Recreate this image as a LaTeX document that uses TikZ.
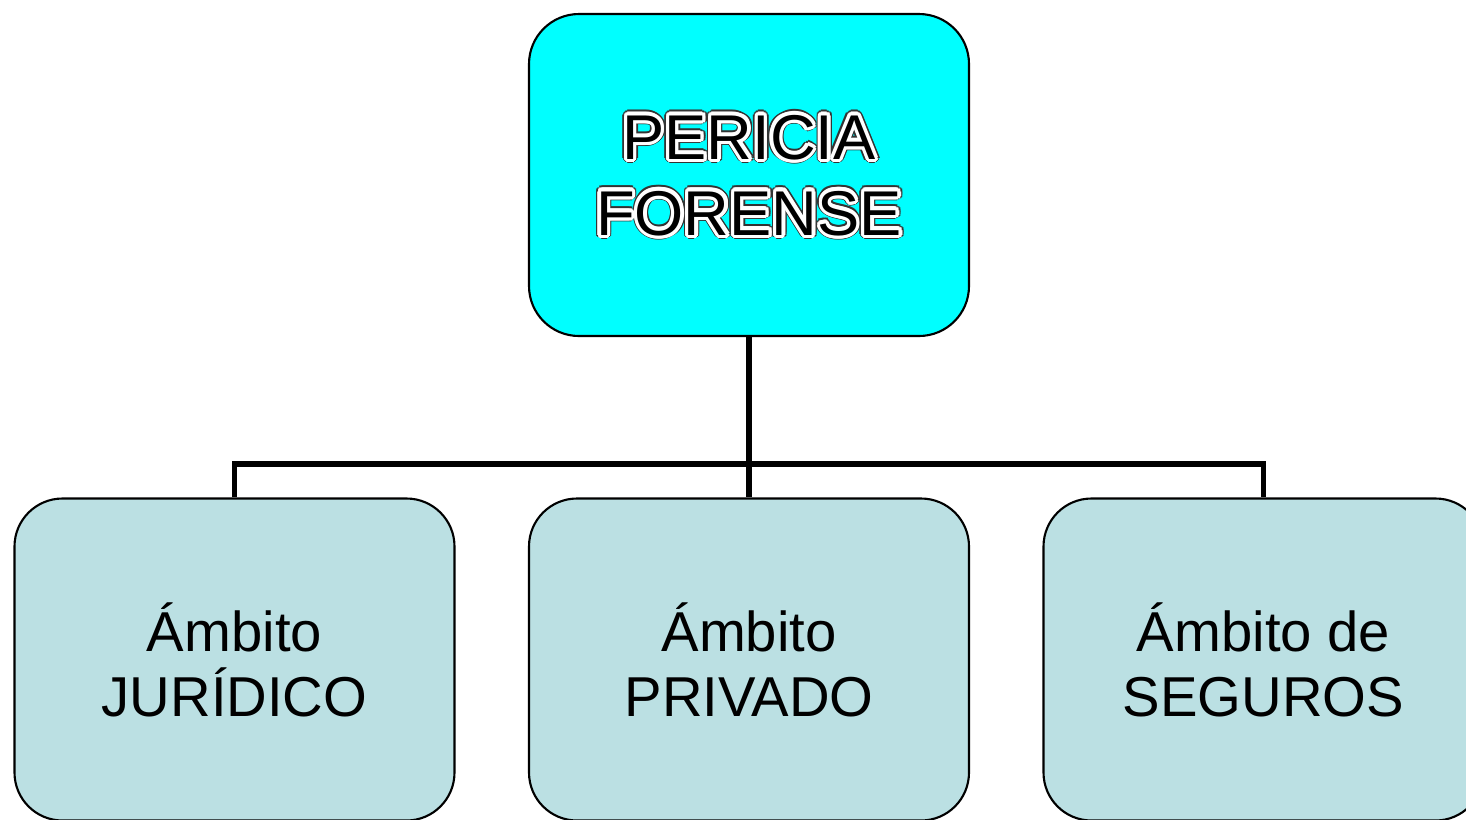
\documentclass[tikz,border=0pt]{standalone}
\usepackage{fontspec}
\setmainfont{Liberation Sans}
\usepackage{contour}
\definecolor{cajaraiz}{RGB}{0,255,255}
\definecolor{cajahija}{RGB}{187,224,227}
\tikzset{
  caja/.style = {draw = black, line width = 0.6pt, rounded corners = 0.48cm,
    minimum width = 4.4cm, minimum height = 3.22cm, inner sep = 0pt,
    align = center},
  hija/.style = {caja, fill = cajahija, font = \fontsize{16}{18.5}\selectfont},
  titulo/.style = {align = center, inner sep = 0pt, font = \fontsize{18}{21.6}\selectfont},
  rama/.style = {line width = 1.45pt}
}
\newcommand{\rotulo}[1]{\contourlength{0.95pt}\contour{white}{#1}}
\newcommand{\borde}[1]{\contourlength{1.35pt}\contour{black!80}{#1}}
\begin{document}
\begin{tikzpicture}
        \useasboundingbox (0, 0) rectangle (14.66, -8.19);
        \fill[white] (0, 0) rectangle (14.66, -8.19);
        
        \node[caja, fill = cajaraiz, rounded corners = 0.5cm] (pericia) at (7.49, -1.75) {};
        % borde oscuro, halo blanco y letras
        \node[titulo] (bordeper) at (7.49, -1.77) {\borde{PERICIA}\\\borde{FORENSE}};
        \node[titulo] (textoper) at (7.49, -1.77) {\rotulo{PERICIA}\\\rotulo{FORENSE}};
        
        \node[hija] (juridico) at (2.345, -6.595) {Ámbito\\JURÍDICO};
        \node[hija] (privado) at (7.49, -6.595) {Ámbito\\PRIVADO};
        \node[hija] (seguros) at (12.635, -6.595) {Ámbito de\\SEGUROS};
        
        \coordinate (barra) at (7.49, -4.64);
        \draw[rama] (pericia.south) -- (privado.north);
        \draw[rama] (juridico.north) |- (barra) -| (seguros.north);
      \end{tikzpicture}
\end{document}
